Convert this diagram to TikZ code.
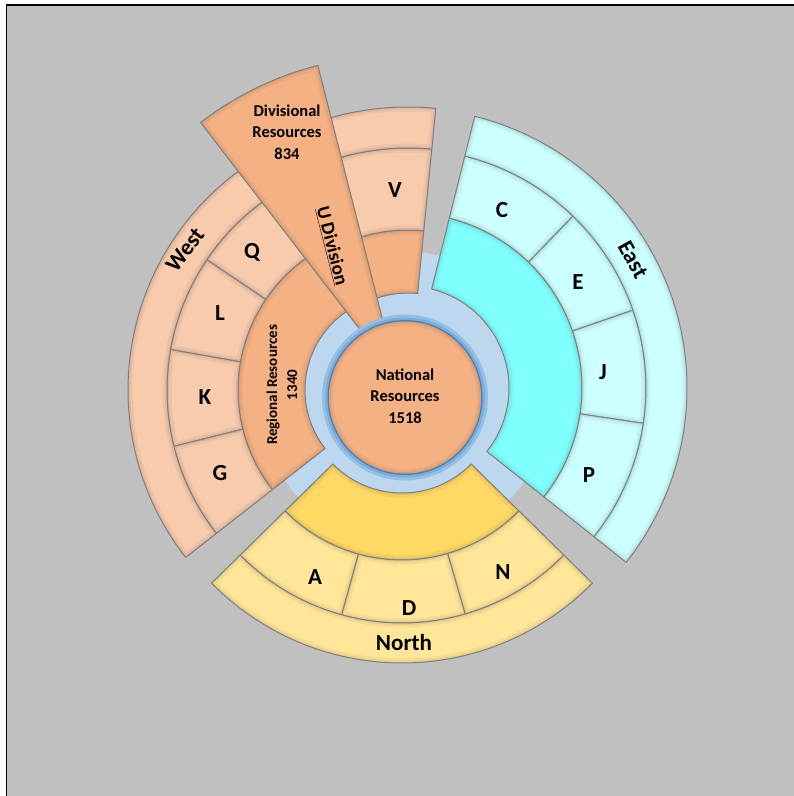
\documentclass[tikz,border=0pt]{standalone}
\usepackage{fontspec}
\setmainfont{Carlito}
\definecolor{bgray}{HTML}{C0C0C0}
\definecolor{orng}{HTML}{F4B183}
\definecolor{lorng}{HTML}{F8CBAD}
\definecolor{gold}{HTML}{FFD966}
\definecolor{lyel}{HTML}{FFE699}
\definecolor{cyn}{HTML}{80FFFF}
\definecolor{lcyn}{HTML}{CCFFFF}
\definecolor{ringblue}{HTML}{BDD7EE}
\definecolor{midblue}{HTML}{5B9BD5}
\definecolor{edgegray}{HTML}{7F7F7F}
\newcommand{\sunShape}[4]{(#1:#3) arc[start angle=#1,end angle=#2,radius=#3] -- (#2:#4) arc[start angle=#2,end angle=#1,radius=#4] -- cycle}
\newcommand{\sunCell}[7]{%
  \begin{scope}[shift={(#1,#2)}]
    \fill[fill=#7] \sunShape{#3}{#4}{#5}{#6};
    \begin{scope}
      \clip \sunShape{#3}{#4}{#5}{#6};
      \draw[line width=9pt,draw=#7!70!black,opacity=0.15] \sunShape{#3}{#4}{#5}{#6};
      \draw[line width=4pt,draw=#7!70!black,opacity=0.22] \sunShape{#3}{#4}{#5}{#6};
    \end{scope}
    \draw[celledge] \sunShape{#3}{#4}{#5}{#6};
  \end{scope}}
\tikzset{
  celledge/.style={draw=edgegray,line width=1pt,line join=round},
  midlbl/.style={font={\bfseries\fontsize{16.5}{21.5}\selectfont},align=center,inner sep=0pt,text=black},
  leaf/.style={font={\bfseries\fontsize{23}{26}\selectfont},inner sep=0pt,text=black},
}
\begin{document}
\begin{tikzpicture}[x=1pt,y=1pt]
\useasboundingbox (0,0) rectangle (794,796);
\fill[white] (0,0) rectangle (794,796);
\fill[bgray] (7,0) rectangle (794,790);
\draw[black,line width=1.6pt] (6.5,0) -- (6.5,791) -- (794,791);

% light blue disk
\coordinate (C0) at (405,398.5);
\fill[ringblue] (C0) circle[radius=146];

% West group
\sunCell{400}{406}{120}{218}{95}{162}{orng}
\sunCell{400}{406}{120}{146}{162}{233}{lorng}
\sunCell{400}{406}{146}{170}{162}{233}{lorng}
\sunCell{400}{406}{170}{194}{162}{233}{lorng}
\sunCell{400}{406}{194}{218}{162}{233}{lorng}
\sunCell{400}{406}{120}{218}{233}{272}{lorng}

% North group
\sunCell{402}{400}{224.5}{315.5}{97}{164}{gold}
\sunCell{402}{400}{224.5}{254.6}{164}{227}{lyel}
\sunCell{402}{400}{254.6}{286.2}{164}{227}{lyel}
\sunCell{402}{400}{286.2}{315.5}{164}{227}{lyel}
\sunCell{402}{400}{224.5}{315.5}{227}{267}{lyel}

% East group
\sunCell{407}{408}{-38.5}{76}{102}{175}{cyn}
\sunCell{407}{408}{46}{76}{175}{239}{lcyn}
\sunCell{407}{408}{19}{46}{175}{239}{lcyn}
\sunCell{407}{408}{-8.5}{19}{175}{239}{lcyn}
\sunCell{407}{408}{-38.5}{-8.5}{175}{239}{lcyn}
\sunCell{407}{408}{-38.5}{76}{239}{280}{lcyn}

% U Division column
\sunCell{408}{404}{84.4}{112}{99}{162}{orng}
\sunCell{408}{404}{84.4}{112}{162}{244}{lorng}
\sunCell{408}{404}{84.4}{112}{244}{285}{lorng}

% Divisional wedge
\sunCell{397.6}{417.6}{104.3}{127.6}{1}{323}{orng}

% National circle with glow
\fill[ringblue!60!midblue] (C0) circle[radius=83];
\fill[ringblue!30!midblue] (C0) circle[radius=80];
\fill[midblue!85!black] (C0) circle[radius=77.5];
\fill[orng] (C0) circle[radius=76];
\begin{scope}
  \clip (C0) circle[radius=76];
  \draw[line width=8pt,draw=orng!70!black,opacity=0.15] (C0) circle[radius=76];
  \draw[line width=3pt,draw=orng!70!black,opacity=0.25] (C0) circle[radius=76];
\end{scope}

% labels
\node[midlbl] (nat) at (405,400) {National\\Resources\\1518};
\node[midlbl] (div) at (287,664) {Divisional\\Resources\\834};
\node[midlbl,font={\bfseries\fontsize{19}{22}\selectfont},rotate=-75.7] (udiv) at (332,550) {\underline{U Division}};
\node[midlbl,font={\bfseries\fontsize{15}{20}\selectfont},rotate=90] (reg) at (282,411) {Regional Resources\\1340};

\node[leaf] (lQ) at (252,544) {Q};
\node[leaf] (lL) at (220,483) {L};
\node[leaf] (lK) at (205,399) {K};
\node[leaf] (lG) at (220,323) {G};
\node[leaf,rotate=53] (lWest) at (185,546) {West};
\node[leaf] (lV) at (395,606) {V};
\node[leaf] (lC) at (502,586) {C};
\node[leaf] (lE) at (578,514) {E};
\node[leaf] (lJ) at (603,424) {J};
\node[leaf] (lP) at (589,321) {P};
\node[leaf,rotate=-61] (lEast) at (633,536) {East};
\node[leaf] (lA) at (315,219) {A};
\node[leaf] (lD) at (409,188) {D};
\node[leaf] (lN) at (503,224) {N};
\node[leaf] (lNorth) at (404,153) {North};
\end{tikzpicture}
\end{document}
